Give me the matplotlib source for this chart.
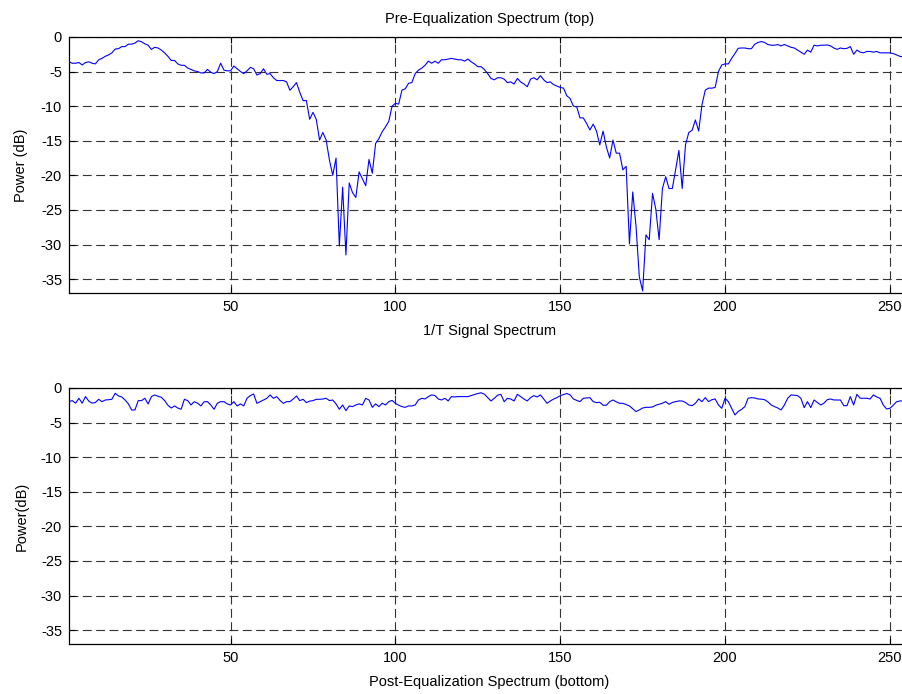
import matplotlib
matplotlib.use("Agg")
import matplotlib.pyplot as plt
import numpy as np

plt.rcParams['font.family'] = ['Liberation Sans', 'DejaVu Sans']

# ---- data ----
pre_eq_db = [
    -3.6, -3.8, -3.8, -3.7, -4.05, -3.7, -3.6, -3.8, -3.9, -3.3,
    -3.1, -2.8, -2.6, -2.3, -1.75, -1.7, -1.4, -1.4, -1.05, -1.05,
    -0.9, -0.55, -0.7, -1.0, -1.2, -1.8, -1.5, -1.6, -1.9, -2.3,
    -2.8, -3.4, -3.4, -3.9, -4.1, -4.1, -4.5, -4.7, -4.9, -5.0,
    -5.2, -5.2, -4.7, -5.1, -5.3, -5.0, -3.8, -4.8, -4.9, -4.9,
    -4.2, -4.6, -5.0, -5.3, -4.9, -4.4, -4.6, -5.5, -5.3, -4.6,
    -5.4, -5.3, -5.9, -6.3, -6.3, -6.3, -6.5, -7.7, -7.2, -6.6,
    -8.0, -9.2, -9.2, -11.9, -10.9, -11.9, -14.9, -13.8, -14.9, -17.8,
    -20.0, -17.5, -30.2, -21.7, -31.5, -21.1, -22.5, -23.2, -19.5, -20.5,
    -21.5, -17.7, -19.7, -15.4, -14.7, -13.7, -13.0, -12.2, -10.0, -9.6,
    -9.7, -7.67, -7.5, -6.7, -6.6, -5.3, -4.8, -4.5, -4.1, -3.5,
    -3.8, -3.5, -3.8, -3.3, -3.3, -3.2, -3.1, -3.2, -3.3, -3.3,
    -3.5, -3.2, -3.6, -3.9, -4.3, -4.3, -4.7, -5.3, -6.0, -6.2,
    -5.9, -5.9, -6.1, -6.6, -6.5, -6.8, -6.0, -6.5, -6.8, -7.2,
    -6.1, -5.9, -6.2, -5.6, -6.2, -6.6, -6.5, -6.9, -7.1, -7.3,
    -7.4, -8.5, -8.9, -10.0, -10.1, -11.7, -11.7, -12.5, -13.45, -12.6,
    -13.6, -15.6, -13.6, -15.9, -17.5, -14.9, -16.8, -16.8, -19.2, -18.7,
    -29.9, -22.4, -27.4, -34.7, -36.7, -28.6, -29.3, -22.6, -24.9, -29.3,
    -21.9, -20.2, -21.9, -21.9, -19.2, -16.4, -21.9, -15.6, -13.8, -13.5,
    -12.0, -13.6, -9.8, -7.7, -7.4, -7.4, -7.3, -5.0, -4.05, -3.9,
    -3.9, -3.1, -2.4, -1.64, -1.6, -1.6, -1.7, -1.7, -1.06, -0.8,
    -0.67, -0.8, -1.1, -1.2, -1.2, -1.1, -1.3, -1.1, -1.3, -1.5,
    -1.6, -1.9, -2.2, -2.5, -1.9, -2.2, -1.2, -1.3, -1.2, -1.2,
    -1.15, -1.3, -1.6, -1.8, -1.6, -1.7, -1.65, -1.4, -2.5, -1.9,
    -2.2, -2.3, -2.1, -2.1, -2.2, -2.1, -2.3, -2.3, -2.3, -2.3,
    -2.4, -2.6, -2.8, -2.9, -2.9, -3.0,
]

post_eq_db = [
    -1.98, -1.83, -2.2, -1.5, -2.2, -1.25, -1.9, -2.2, -2.1, -1.64,
    -1.98, -1.74, -1.7, -1.64, -0.77, -1.16, -1.3, -1.74, -2.3, -3.18,
    -3.18, -1.83, -1.83, -1.49, -2.31, -1.25, -1.01, -1.2, -1.35, -1.83,
    -2.5, -2.9, -2.6, -2.9, -3.08, -1.64, -1.83, -2.46, -1.98, -2.2,
    -2.6, -2.0, -1.98, -2.46, -3.08, -2.2, -1.98, -1.98, -2.3, -2.46,
    -1.98, -2.6, -2.3, -2.6, -1.49, -1.1, -0.87, -2.22, -1.98, -1.74,
    -1.5, -1.01, -1.5, -1.25, -1.8, -2.22, -1.98, -1.98, -1.6, -1.16,
    -1.83, -1.64, -2.12, -1.9, -1.83, -1.64, -1.64, -1.6, -1.49, -1.83,
    -1.74, -2.31, -3.08, -2.46, -3.28, -2.6, -2.7, -2.46, -2.3, -2.46,
    -1.5, -1.74, -2.8, -2.3, -2.7, -2.2, -2.46, -1.98, -1.8, -2.22,
    -2.5, -2.7, -2.8, -2.6, -2.6, -2.46, -1.74, -1.5, -1.59, -1.25,
    -1.0, -1.1, -1.59, -1.74, -1.49, -1.88, -1.25, -1.3, -1.25, -1.25,
    -1.25, -1.25, -1.1, -0.95, -0.8, -0.7, -0.9, -1.4, -1.88, -1.5,
    -1.05, -0.92, -1.98, -1.5, -1.6, -1.88, -0.92, -1.25, -1.6, -1.88,
    -1.4, -1.11, -1.3, -1.01, -1.6, -2.22, -1.88, -1.6, -1.4, -1.11,
    -0.95, -0.8, -1.0, -1.59, -1.8, -1.98, -1.5, -1.45, -1.4, -1.98,
    -2.12, -2.07, -2.5, -2.5, -1.98, -1.74, -2.0, -2.22, -2.22, -2.4,
    -2.6, -3.0, -3.42, -3.18, -2.9, -2.8, -2.8, -2.75, -2.5, -2.36,
    -2.2, -1.98, -2.36, -2.1, -1.98, -1.88, -1.88, -2.1, -2.46, -2.56,
    -2.22, -1.59, -1.98, -1.4, -1.98, -1.7, -1.59, -2.46, -2.94, -1.49,
    -1.98, -2.94, -3.9, -3.4, -3.1, -2.7, -1.49, -1.4, -1.45, -1.59,
    -1.62, -1.7, -2.0, -2.46, -2.7, -2.9, -3.18, -2.46, -1.49, -1.01,
    -1.05, -1.11, -1.49, -2.84, -1.98, -2.84, -1.74, -2.1, -2.46, -2.2,
    -1.7, -1.59, -1.74, -1.74, -1.74, -2.56, -2.56, -1.25, -2.46, -0.92,
    -1.49, -1.49, -1.49, -1.6, -1.01, -1.3, -1.5, -2.46, -3.04, -2.94,
    -2.5, -2.0, -1.88, -1.88, -1.85, -1.85,
]

x_ticks = [50, 100, 150, 200, 250]
y_ticks = [0, -5, -10, -15, -20, -25, -30, -35]

titles = ["Pre-Equalization Spectrum (top)", ""]
xlabels = ["1/T Signal Spectrum", "Post-Equalization Spectrum (bottom)"]
ylabels = ["Power (dB)", "Power(dB)"]

n = np.arange(1, len(pre_eq_db) + 1)

fig = plt.figure(figsize=(9.02, 6.94), dpi=100)
# axes extend past the right edge of the figure (as in reference crop)
ax1 = fig.add_axes([0.0765, 0.5778, 0.932, 0.369])
ax2 = fig.add_axes([0.0765, 0.0720, 0.932, 0.369])

for ax, data, t, xl, yl in zip([ax1, ax2], [pre_eq_db, post_eq_db], titles, xlabels, ylabels):
    ax.plot(n, data, color='#0000ff', linewidth=0.8)
    ax.set_xlim(1, 256)
    ax.set_ylim(-37, 0)
    ax.set_xticks(x_ticks)
    ax.set_yticks(y_ticks)
    ax.set_yticklabels([str(v) for v in y_ticks])
    ax.grid(True, color='0.2', linestyle=(0, (8, 4)), linewidth=0.8)
    ax.tick_params(direction='in', length=4, width=0.8, labelsize=10.5,
                   top=True, right=True, pad=5)
    for s in ax.spines.values():
        s.set_linewidth(0.9)
    if t:
        ax.set_title(t, fontsize=10.5, pad=10)
    ax.set_xlabel(xl, fontsize=10.5, labelpad=7)
    ax.set_ylabel(yl, fontsize=10.5, labelpad=9)

fig.savefig("out.png", dpi=100)
